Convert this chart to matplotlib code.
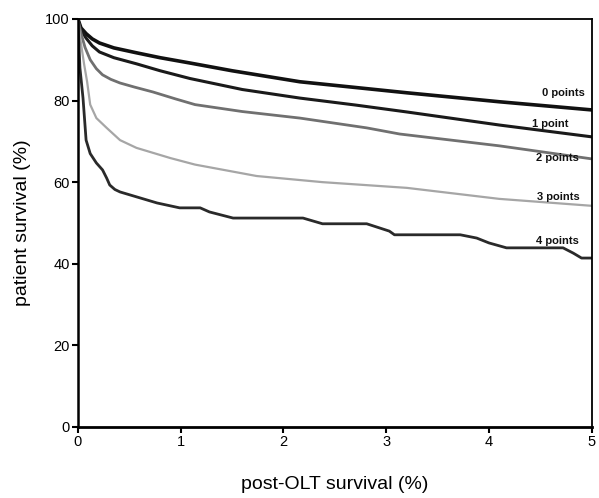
import matplotlib
matplotlib.use("Agg")
import matplotlib.pyplot as plt

plt.rcParams['font.family'] = ['Liberation Sans', 'DejaVu Sans']

# Data
t0 = [0, 0.03, 0.08, 0.14, 0.21, 0.35, 0.57, 0.8, 1.09, 1.5, 2.16, 2.7, 3.2, 4.1, 5.0]
s0 = [100, 97.8, 96.4, 95.1, 94.1, 92.9, 91.7, 90.5, 89.2, 87.3, 84.6, 83.2, 81.9, 79.7, 77.7]

t1 = [0, 0.03, 0.08, 0.14, 0.21, 0.35, 0.57, 0.8, 1.09, 1.6, 2.16, 2.7, 3.2, 4.1, 5.0]
s1 = [100, 97.3, 95.3, 93.4, 91.9, 90.5, 89.0, 87.3, 85.4, 82.7, 80.6, 78.9, 77.2, 74.0, 71.1]

t2 = [0, 0.03, 0.07, 0.12, 0.18, 0.24, 0.32, 0.41, 0.55, 0.73, 0.95, 1.14, 1.6, 2.16, 2.81, 3.13, 4.1, 5.0]
s2 = [100, 96.5, 93.0, 90.0, 87.8, 86.3, 85.2, 84.3, 83.3, 82.1, 80.4, 79.0, 77.3, 75.7, 73.3, 71.8, 68.9, 65.7]

t3 = [0, 0.03, 0.06, 0.09, 0.12, 0.18, 0.28, 0.41, 0.57, 0.9, 1.14, 1.74, 2.38, 3.2, 4.1, 5.0]
s3 = [100, 94, 89, 84.6, 79, 75.7, 73.3, 70.3, 68.4, 65.9, 64.3, 61.5, 60.0, 58.6, 55.9, 54.2]

t4 = [0, 0.02, 0.05, 0.08, 0.12, 0.18, 0.24, 0.28, 0.31, 0.36, 0.41, 0.57, 0.77, 0.99, 1.19, 1.28, 1.51,
      2.19, 2.38, 2.81, 3.03, 3.08, 3.72, 3.88, 4.0, 4.17, 4.72, 4.82, 4.9, 5.0]
s4 = [100, 88, 80.6, 70.3, 67.0, 64.7, 63.0, 61.0, 59.3, 58.2, 57.6, 56.4, 54.9, 53.7, 53.7, 52.7, 51.2,
      51.2, 49.8, 49.8, 48.0, 47.1, 47.1, 46.3, 45.1, 43.9, 43.9, 42.6, 41.4, 41.4]

labels = ["0 points", "1 point", "2 points", "3 points", "4 points"]
label_x = [4.72, 4.6, 4.67, 4.67, 4.67]
label_y = [81.9, 74.3, 65.9, 56.4, 45.6]

xticks = [0, 1, 2, 3, 4, 5]
yticks = [0, 20, 40, 60, 80, 100]

fig = plt.figure(figsize=(5.99, 4.98), dpi=100)
ax = fig.add_axes([0.130, 0.1426, 0.858, 0.8194])

series = [(t0, s0), (t1, s1), (t2, s2), (t3, s3), (t4, s4)]
colors = ['#111111', '#1a1a1a', '#707070', '#a6a6a6', '#2a2a2a']
widths = [2.6, 2.2, 2.0, 1.6, 2.0]
for (t, s), c, w in zip(series, colors, widths):
    ax.plot(t, s, color=c, lw=w, solid_joinstyle='round')

for lab, x, y in zip(labels, label_x, label_y):
    ax.text(x, y, lab, ha='center', va='center', fontsize=8, fontweight='bold', color='#111111')

ax.set_xlim(0, 5)
ax.set_ylim(0, 100)
ax.set_xticks(xticks)
ax.set_yticks(yticks)
ax.tick_params(direction='out', length=4, width=1.5, labelsize=10.5, pad=2)
for sp in ax.spines.values():
    sp.set_linewidth(1.3)
ax.spines['bottom'].set_linewidth(2.0)
ax.spines['left'].set_linewidth(1.8)

ax.set_xlabel("post-OLT survival (%)", fontsize=14, labelpad=19)
ax.set_ylabel("patient survival (%)", fontsize=14, labelpad=10)

fig.savefig("out.png", dpi=100)
